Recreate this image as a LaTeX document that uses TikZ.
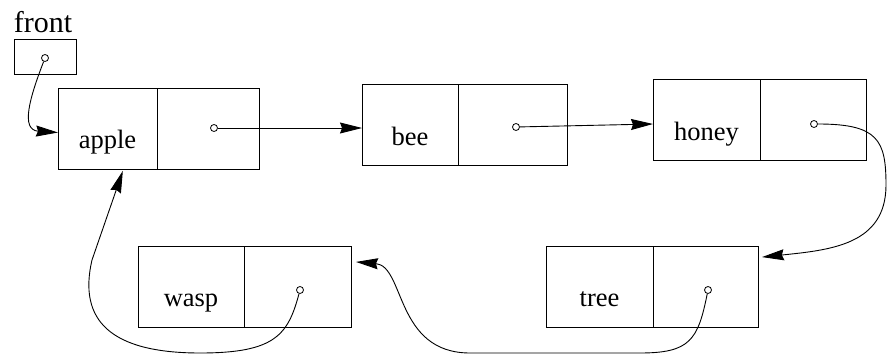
\documentclass[tikz,border=0pt]{standalone}
\usepackage{fontspec}
\setmainfont{Liberation Serif}
\usetikzlibrary{arrows.meta,positioning}

\begin{document}
\begin{tikzpicture}[x=1pt,y=-1pt,
    cell/.style={draw,line width=1pt,outer sep=0pt,inner sep=0pt,minimum height=81pt},
    word/.style={cell,font=\fontsize{26.5}{31}\selectfont,text height=40pt,text depth=0pt},
    dot/.style={draw,circle,fill=white,inner sep=0pt,minimum size=7pt,line width=0.8pt},
    link/.style={line width=0.9pt,-{Stealth[length=22pt,width=11pt,inset=2pt]}}]
    \useasboundingbox (0,0) rectangle (889,356);
    % front pointer
    \node[anchor=base,font=\fontsize{30}{36}\selectfont] (frontname) at (43,32) {front};
    \node[cell,minimum width=62pt,minimum height=35pt] (front) at (45,56.5) {};
    \node[dot] (frontdot) at (45,58) {};
    % top row
    \node[word,minimum width=99pt] at (107.5,128.5) (apple) {apple};
    \node[cell,minimum width=102pt,right=0pt of apple] (appleptr) {};
    \node[word,minimum width=96pt] at (410,125) (bee) {bee};
    \node[cell,minimum width=109pt,right=0pt of bee] (beeptr) {};
    \node[word,minimum width=107pt] at (706.5,120) (honey) {honey};
    \node[cell,minimum width=106pt,right=0pt of honey] (honeyptr) {};
    % bottom row
    \node[word,minimum width=106pt] at (191,286.5) (wasp) {wasp};
    \node[cell,minimum width=107pt,right=0pt of wasp] (waspptr) {};
    \node[word,minimum width=107pt] at (599.5,286.5) (tree) {tree};
    \node[cell,minimum width=105pt,right=0pt of tree] (treeptr) {};
    % pointer dots
    \node[dot] at (214,128) (appledot) {};
    \node[dot] at (516,127) (beedot) {};
    \node[dot] at (814,124) (honeydot) {};
    \node[dot] at (300,290) (waspdot) {};
    \node[dot] at (708,290) (treedot) {};
    % links
    \draw[link] (frontdot) .. controls (30,97) and (20,130) .. ([yshift=-4pt]apple.west);
    \draw[link] (appledot) -- (appledot -| bee.west);
    \draw[link] (beedot) -- ([yshift=-4pt]honey.west);
    \draw[link,shorten >=4pt] (honeydot) .. controls (878,124) and (886,140) .. (886,185)
        .. controls (886,245) and (830,250) .. ([yshift=29pt]treeptr.east);
    \draw[link,shorten >=5pt] (treedot) .. controls (698,340) and (690,353) .. (640,353) -- (470,353)
        .. controls (395,353) and (405,266) .. ([yshift=25pt]waspptr.east);
    \draw[link,shorten >=2pt] (waspdot) .. controls (288,335) and (275,353) .. (200,353)
        .. controls (110,353) and (78,320) .. (92,260) -- ([xshift=16pt]apple.south);
\end{tikzpicture}
\end{document}
